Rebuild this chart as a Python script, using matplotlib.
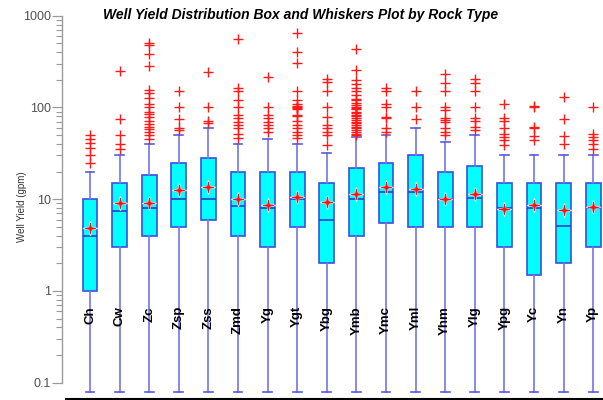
import matplotlib
matplotlib.use("Agg")
import matplotlib.pyplot as plt
from matplotlib.path import Path
from matplotlib.ticker import FixedLocator, NullFormatter
import numpy as np

plt.rcParams['font.family'] = ['Liberation Sans', 'DejaVu Sans']

# Rock types
categories = ["Ch", "Cw", "Zc", "Zsp", "Zss", "Zmd", "Yg", "Ygt", "Ybg",
              "Ymb", "Ymc", "Yml", "Yhm", "Ylg", "Ypg", "Yc", "Yn", "Yp"]

# Well yield summary statistics (gpm)
q1 = [1.0, 3.0, 4.0, 5.0, 6.0, 4.0, 3.0, 5.0, 2.0,
      4.0, 5.5, 5.0, 5.0, 5.0, 3.0, 1.5, 2.0, 3.0]
median = [4.0, 7.5, 8.0, 10.0, 10.0, 8.4, 8.0, 10.0, 6.0,
          10.0, 12.0, 12.0, 10.0, 10.4, 8.0, 8.0, 5.1, 8.0]
q3 = [10, 15, 18.4, 25, 28, 20, 20, 20, 15,
      22, 25, 30, 20, 23, 15, 15, 15, 15]
whisker_low = [0.08] * 18
whisker_high = [20, 30, 40, 50, 60, 40, 45, 40, 32,
                48, 50, 60, 42, 50, 30, 30, 30, 30]
mean = [4.8, 9.2, 9.2, 12.5, 13.5, 10.0, 8.6, 10.6, 9.4,
        11.4, 13.5, 12.8, 10.0, 11.4, 7.9, 8.6, 7.6, 8.3]
outliers = [
    [25, 30, 36, 41, 45, 50],
    [35, 40, 50, 75, 250],
    [45, 50, 54, 58, 61, 66, 72, 79, 85, 90, 100, 110, 126, 143, 155, 283, 380, 480, 508],
    [57, 60, 75, 100, 152],
    [67, 72, 100, 245],
    [46, 52, 59, 64, 70, 76, 83, 100, 120, 152, 162, 553],
    [54, 59, 64, 70, 76, 83, 100, 213],
    [46, 50, 54, 59, 64, 72, 81, 83, 95, 98, 100, 103, 108, 120, 152, 303, 399, 653],
    [39, 50, 54, 59, 64, 79, 100, 152, 191, 203],
    [50, 52, 54, 57, 59, 62, 64, 67, 70, 73, 76, 80, 83, 86, 90, 95, 98, 102,
     106, 112, 120, 124, 135, 152, 162, 180, 199, 256, 431],
    [54, 59, 76, 78, 100, 109, 152, 162],
    [75, 100, 152],
    [50, 54, 59, 70, 73, 76, 94, 100, 152, 183, 232],
    [57, 61, 72, 76, 100, 152, 183, 203],
    [39, 44, 48, 52, 60, 72, 76, 109],
    [44, 49, 59, 62, 100, 103],
    [40, 49, 75, 129],
    [35, 40, 44, 48, 52, 100],
]

positions = np.arange(1, len(categories) + 1)

stats = []
for i, name in enumerate(categories):
    stats.append(dict(label=name, q1=q1[i], med=median[i], q3=q3[i],
                      whislo=whisker_low[i], whishi=whisker_high[i],
                      mean=mean[i], fliers=outliers[i]))

fig = plt.figure(figsize=(6.03, 4.0), dpi=100)
ax = fig.add_axes([66 / 603, 1 - 398.5 / 400, 1 - 66 / 603, (398.5 - 15.7) / 400])

ax.bxp(stats, positions=positions, widths=0.5, capwidths=0.3,
       patch_artist=True, showmeans=False, showfliers=True,
       boxprops=dict(facecolor='#00ffff', edgecolor='#3a4fe0', linewidth=1.2),
       medianprops=dict(color='#2a3fd0', linewidth=1.2),
       whiskerprops=dict(color='#7474e8', linewidth=1.2),
       capprops=dict(color='#5a5ae0', linewidth=1.2),
       flierprops=dict(marker='+', markeredgecolor='#ff1a1a', markersize=6.5,
                       markeredgewidth=1.0, linestyle='none'))

# four-pointed star for the mean, with a pale halo
star = Path([(0, 1), (0.16, 0.16), (1, 0), (0.16, -0.16), (0, -1),
             (-0.16, -0.16), (-1, 0), (-0.16, 0.16), (0, 1)])
ax.plot(positions, mean, linestyle='none', marker=star, markersize=10,
        markerfacecolor='#fff4f4', markeredgecolor='#ffe0e0', alpha=0.85, zorder=4)
ax.plot(positions, mean, linestyle='none', marker=star, markersize=7.5,
        markerfacecolor='#ff1010', markeredgecolor='#ff1010', markeredgewidth=0.6,
        zorder=5)

ax.set_yscale('log')
ax.set_ylim(0.0673, 1000)
ax.set_xlim(1 - 24 / 29.6, 1 + 513 / 29.6)

# category labels written vertically inside the plot
for p, name in zip(positions, categories):
    ax.text(p, 10 ** (-0.165), name, rotation=90, ha='center', va='top',
            fontsize=9.5, fontweight='bold', color='black', zorder=6)

ax.set_xticks([])
major = [0.1, 1, 10, 100, 1000]
ax.yaxis.set_major_locator(FixedLocator(major))
ax.set_yticklabels(['0.1', '1', '10', '100', '1000'])
minor = [m * 10.0 ** e for e in range(-1, 3) for m in range(2, 10)]
ax.yaxis.set_minor_locator(FixedLocator(minor))
ax.yaxis.set_minor_formatter(NullFormatter())
ax.tick_params(axis='y', which='major', length=7, width=0.9, color='#9a9a9a',
               labelsize=9, labelcolor='#505050', pad=1)
ax.tick_params(axis='y', which='minor', length=4, width=0.8, color='#9a9a9a')

ax.spines['top'].set_visible(False)
ax.spines['right'].set_visible(False)
ax.spines['left'].set_color('#9a9a9a')
ax.spines['left'].set_linewidth(1.0)
ax.spines['left'].set_position(('outward', 3))
ax.spines['left'].set_bounds(0.1, 1000)
ax.spines['bottom'].set_color('black')
ax.spines['bottom'].set_linewidth(1.5)

ax.set_ylabel('Well Yield (gpm)', fontsize=7, color='#333333', labelpad=-3)

fig.text(301 / 603, 1 - 15 / 400, 'Well Yield Distribution Box and Whiskers Plot by Rock Type',
         ha='center', va='center', fontsize=10, fontweight='bold', fontstyle='italic')

fig.savefig('out.png', dpi=100)
